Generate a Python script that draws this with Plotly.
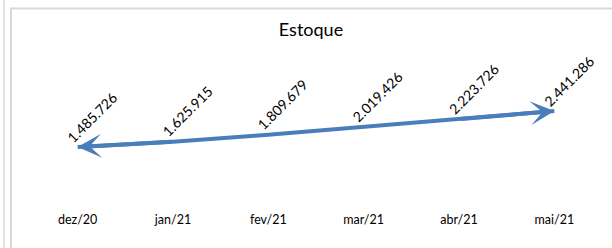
import plotly.graph_objects as go

months = ["dez/20", "jan/21", "fev/21", "mar/21", "abr/21", "mai/21"]
estoque = [1485726, 1625915, 1809679, 2019426, 2223726, 2441286]
labels = ["1.485.726", "1.625.915", "1.809.679", "2.019.426", "2.223.726", "2.441.286"]
title_text = "Estoque"

W, H = 612, 248
ML, MR, MT, MB = 30, 10, 90, 45
PW, PH = W - ML - MR, H - MT - MB
BLUE = "#4a7ebb"
FONT = "Lato"

xs = list(range(len(months)))

fig = go.Figure()
fig.add_trace(go.Scatter(
    x=xs, y=estoque, mode="lines",
    line=dict(color=BLUE, width=4),
    hoverinfo="skip", showlegend=False,
))

# arrowheads at both ends
for a, b in ((0, 1), (-1, -2)):
    fig.add_annotation(x=xs[a], y=estoque[a], ax=xs[b], ay=estoque[b],
                       xref="x", yref="y", axref="x", ayref="y", text="",
                       showarrow=True, arrowhead=3, arrowsize=1.0, arrowwidth=4,
                       arrowcolor=BLUE, standoff=0)

for xi, v, lab in zip(xs, estoque, labels):
    fig.add_annotation(x=xi, y=v, text=lab, showarrow=False, textangle=-45,
                       xanchor="center", yanchor="middle", xshift=14, yshift=30,
                       font=dict(family=FONT, size=14, color="#000000"))

def px2paper_x(px):
    return (px - ML) / PW

def px2paper_y(py):
    return (H - MB - py) / PH

line_gray = "#d9d9d9"
fig.add_shape(type="line", xref="paper", yref="paper",
              x0=px2paper_x(4), x1=px2paper_x(4), y0=px2paper_y(0), y1=px2paper_y(H),
              line=dict(color=line_gray, width=1.5))
fig.add_shape(type="line", xref="paper", yref="paper",
              x0=px2paper_x(11), x1=px2paper_x(11), y0=px2paper_y(8), y1=px2paper_y(H),
              line=dict(color=line_gray, width=2))
fig.add_shape(type="line", xref="paper", yref="paper",
              x0=px2paper_x(10), x1=px2paper_x(W), y0=px2paper_y(8.5), y1=px2paper_y(8.5),
              line=dict(color=line_gray, width=2))

fig.update_layout(
    width=W, height=H,
    margin=dict(l=ML, r=MR, t=MT, b=MB),
    paper_bgcolor="white", plot_bgcolor="white",
    title=dict(text=title_text, x=311 / W, xanchor="center", y=1 - 30 / H,
               yanchor="middle", yref="container",
               font=dict(family=FONT, size=18, color="#000000")),
    xaxis=dict(range=[-0.5, len(months) - 0.5], tickvals=xs, ticktext=months,
               showgrid=False, zeroline=False, showline=False, ticks="",
               ticklabelstandoff=7,
               tickfont=dict(family=FONT, size=12.5, color="#000000")),
    yaxis=dict(range=[0, 3000000], visible=False, showgrid=False, zeroline=False),
)

fig.write_html("out.html", config={"displayModeBar": False},
               post_script="document.body.style.margin='0';")
